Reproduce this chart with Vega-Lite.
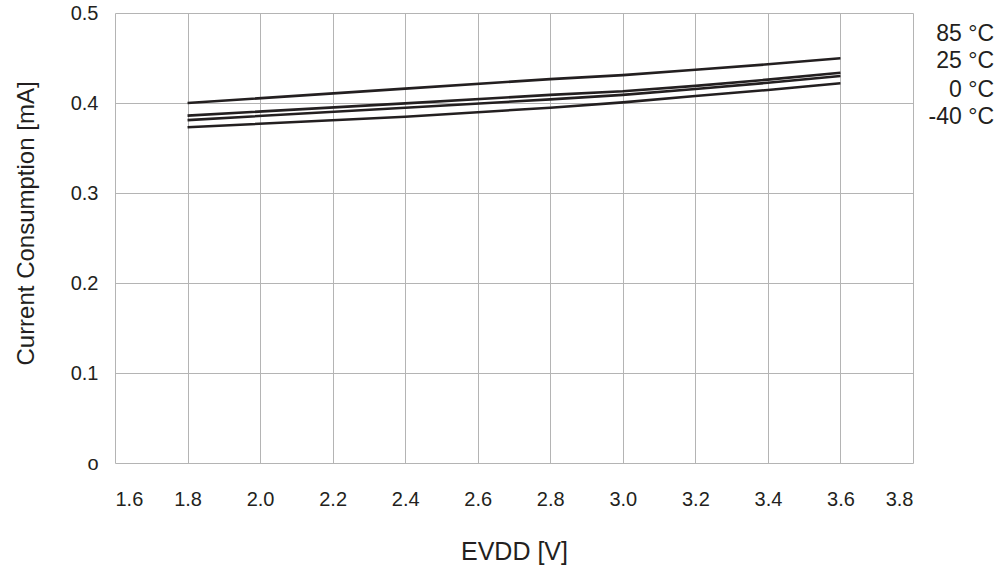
{
  "$schema": "https://vega.github.io/schema/vega-lite/v6.json",
  "width": 798,
  "height": 450,
  "autosize": {"type": "none"},
  "padding": {"left": 115, "top": 13, "right": 95, "bottom": 106},
  "background": "white",
  "config": {
    "view": {"stroke": null},
    "font": "Liberation Sans",
    "axis": {
      "domain": false,
      "ticks": false,
      "gridColor": "#b4b4b4",
      "gridWidth": 1,
      "gridOpacity": 1,
      "labelColor": "#231f20",
      "titleColor": "#231f20",
      "labelFont": "Liberation Sans",
      "titleFont": "Liberation Sans",
      "titleFontWeight": "normal"
    }
  },
  "datasets": {
    "curves": [
      {"temp": "85", "v": 1.8, "i": 0.400},
      {"temp": "85", "v": 2.4, "i": 0.416},
      {"temp": "85", "v": 2.8, "i": 0.4265},
      {"temp": "85", "v": 3.0, "i": 0.431},
      {"temp": "85", "v": 3.2, "i": 0.437},
      {"temp": "85", "v": 3.4, "i": 0.443},
      {"temp": "85", "v": 3.6, "i": 0.4497},
      {"temp": "25", "v": 1.8, "i": 0.386},
      {"temp": "25", "v": 2.4, "i": 0.3996},
      {"temp": "25", "v": 2.8, "i": 0.409},
      {"temp": "25", "v": 3.0, "i": 0.413},
      {"temp": "25", "v": 3.2, "i": 0.419},
      {"temp": "25", "v": 3.4, "i": 0.426},
      {"temp": "25", "v": 3.6, "i": 0.4337},
      {"temp": "0", "v": 1.8, "i": 0.381},
      {"temp": "0", "v": 2.4, "i": 0.3948},
      {"temp": "0", "v": 2.8, "i": 0.404},
      {"temp": "0", "v": 3.0, "i": 0.409},
      {"temp": "0", "v": 3.2, "i": 0.4156},
      {"temp": "0", "v": 3.4, "i": 0.4225},
      {"temp": "0", "v": 3.6, "i": 0.430},
      {"temp": "-40", "v": 1.8, "i": 0.373},
      {"temp": "-40", "v": 2.4, "i": 0.3848},
      {"temp": "-40", "v": 2.8, "i": 0.3948},
      {"temp": "-40", "v": 3.0, "i": 0.4007},
      {"temp": "-40", "v": 3.2, "i": 0.4078},
      {"temp": "-40", "v": 3.4, "i": 0.4145},
      {"temp": "-40", "v": 3.6, "i": 0.422}
    ],
    "labels": [
      {"label": "85 °C", "v": 3.8, "i": 0.4767},
      {"label": "25 °C", "v": 3.8, "i": 0.4467},
      {"label": "0 °C", "v": 3.8, "i": 0.4144},
      {"label": "-40 °C", "v": 3.8, "i": 0.3844}
    ]
  },
  "encoding": {
    "x": {
      "field": "v",
      "type": "quantitative",
      "scale": {"domain": [1.6, 3.8], "nice": false, "zero": false},
      "axis": {
        "title": "EVDD [V]",
        "values": [1.6, 1.8, 2.0, 2.2, 2.4, 2.6, 2.8, 3.0, 3.2, 3.4, 3.6, 3.8],
        "format": ".1f",
        "labelFontSize": 20,
        "labelPadding": 26,
        "labelBaseline": "top",
        "titleFontSize": 25,
        "titleBaseline": "alphabetic",
        "titleY": 96,
        "titleX": 399
      }
    },
    "y": {
      "field": "i",
      "type": "quantitative",
      "scale": {"domain": [0, 0.5], "nice": false},
      "axis": {
        "title": "Current Consumption [mA]",
        "values": [0, 0.1, 0.2, 0.3, 0.4, 0.5],
        "labelExpr": "datum.value == 0 ? 'o' : format(datum.value, '.1f')",
        "labelFontSize": 20,
        "labelPadding": 17,
        "titleFontSize": 24,
        "titleAngle": -90,
        "titleAlign": "center",
        "titleBaseline": "alphabetic",
        "titleX": -82,
        "titleY": 210
      }
    }
  },
  "layer": [
    {
      "data": {"name": "curves"},
      "mark": {"type": "line", "color": "#231f20", "strokeWidth": 2.6},
      "encoding": {"detail": {"field": "temp"}}
    },
    {
      "data": {"name": "labels"},
      "mark": {"type": "text", "align": "right", "baseline": "middle", "dx": 81, "fontSize": 23, "color": "#231f20", "font": "Liberation Sans"},
      "encoding": {"text": {"field": "label"}}
    }
  ]
}
